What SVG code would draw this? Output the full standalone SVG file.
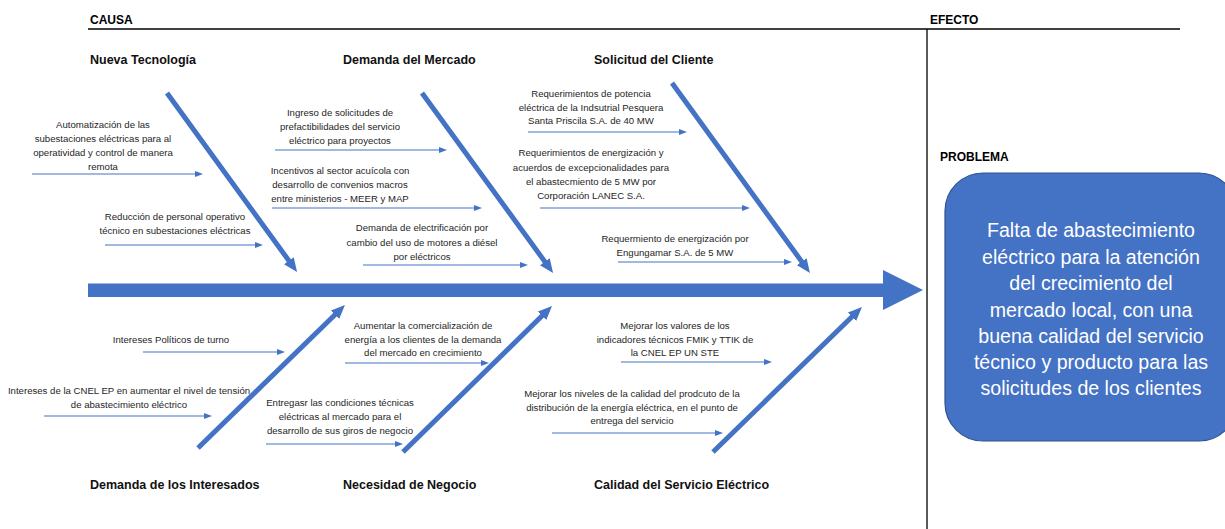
<svg xmlns="http://www.w3.org/2000/svg" width="1225" height="529" viewBox="0 0 1225 529">
<style>
.hdr{font-family:"Liberation Sans",Arial,sans-serif;font-weight:bold;font-size:12px;fill:#000}
.cat{font-family:"Liberation Sans",Arial,sans-serif;font-weight:bold;font-size:12.5px;fill:#111}
.t{font-family:"Liberation Sans",Arial,sans-serif;font-size:9.6px;fill:#262626;text-anchor:middle}
.pt{font-family:"Liberation Sans",Arial,sans-serif;font-size:19.6px;fill:#fff;text-anchor:middle}
.bone{stroke:#4472C4;stroke-width:5;fill:none;marker-end:url(#big)}
.sub{stroke:#4472C4;stroke-width:1.2;fill:none;marker-end:url(#small)}
</style>
<defs>
<marker id="big" viewBox="0 0 14 12" refX="4" refY="6" markerWidth="14" markerHeight="12" markerUnits="userSpaceOnUse" orient="auto">
<path d="M0,0 L14,6 L0,12 z" fill="#4472C4"/>
</marker>
<marker id="small" viewBox="0 0 8 6" refX="2" refY="3" markerWidth="8" markerHeight="6" markerUnits="userSpaceOnUse" orient="auto">
<path d="M0,0 L8,3 L0,6 z" fill="#4472C4"/>
</marker>
</defs>
<rect width="1225" height="529" fill="#fff"/>
<g id="frame">
<line x1="88" y1="29" x2="1180" y2="29" stroke="#000" stroke-width="1.3"/>
<line x1="927" y1="29" x2="927" y2="529" stroke="#000" stroke-width="1.3"/>
<text class="hdr" x="90" y="24">CAUSA</text>
<text class="hdr" x="930" y="24">EFECTO</text>
<text class="hdr" x="940" y="161">PROBLEMA</text>
</g>
<g id="connectors">
<rect x="88" y="283.5" width="796" height="13.5" fill="#4472C4"/>
<polygon points="883,270 923,290 883,310" fill="#4472C4"/>
<line class="bone" x1="167" y1="93" x2="291.2" y2="263.9"/>
<line class="bone" x1="422" y1="93" x2="547.2" y2="264.9"/>
<line class="bone" x1="672" y1="83" x2="804.1" y2="264.9"/>
<line class="bone" x1="198" y1="448" x2="337.8" y2="312"/>
<line class="bone" x1="403" y1="452" x2="544.9" y2="313"/>
<line class="bone" x1="713" y1="452" x2="854.8" y2="314"/>
<line class="sub" x1="32" y1="174" x2="197" y2="174"/>
<line class="sub" x1="105" y1="245" x2="257" y2="245"/>
<line class="sub" x1="275" y1="150" x2="441" y2="150"/>
<line class="sub" x1="272" y1="208" x2="476" y2="208"/>
<line class="sub" x1="363" y1="265" x2="522" y2="265"/>
<line class="sub" x1="528" y1="132" x2="681" y2="132"/>
<line class="sub" x1="540" y1="208" x2="744" y2="208"/>
<line class="sub" x1="618" y1="262" x2="786" y2="262"/>
<line class="sub" x1="143" y1="352" x2="279" y2="352"/>
<line class="sub" x1="44" y1="416" x2="206" y2="416"/>
<line class="sub" x1="345" y1="363" x2="483" y2="363"/>
<line class="sub" x1="266" y1="444" x2="397" y2="444"/>
<line class="sub" x1="621" y1="362" x2="766" y2="362"/>
<line class="sub" x1="552" y1="433" x2="717" y2="433"/>
</g>
<g id="cat-nueva-tecnologia"><text class="cat" x="90" y="63.5">Nueva Tecnología</text></g>
<g id="cat-demanda-mercado"><text class="cat" x="343" y="63.5">Demanda del Mercado</text></g>
<g id="cat-solicitud-cliente"><text class="cat" x="594" y="63.5">Solicitud del Cliente</text></g>
<g id="cat-demanda-interesados"><text class="cat" x="90" y="488.5">Demanda de los Interesados</text></g>
<g id="cat-necesidad-negocio"><text class="cat" x="343" y="488.5">Necesidad de Negocio</text></g>
<g id="cat-calidad-servicio"><text class="cat" x="594" y="488.5">Calidad del Servicio Eléctrico</text></g>
<g id="c1">
<text class="t" x="103" y="128.3">Automatización de las</text>
<text class="t" x="103" y="142.2">subestaciones eléctricas para al</text>
<text class="t" x="103" y="156.2">operatividad y control de manera</text>
<text class="t" x="103" y="169.5">remota</text>
</g>
<g id="c2">
<text class="t" x="175" y="220.3">Reducción de personal operativo</text>
<text class="t" x="175" y="233.5">técnico en subestaciones eléctricas</text>
</g>
<g id="c3">
<text class="t" x="340" y="116.3">Ingreso de solicitudes de</text>
<text class="t" x="340" y="130.3">prefactibilidades del servicio</text>
<text class="t" x="340" y="144.3">eléctrico para proyectos</text>
</g>
<g id="c4">
<text class="t" x="340" y="174.3">Incentivos al sector acuícola con</text>
<text class="t" x="340" y="188.3">desarrollo de convenios macros</text>
<text class="t" x="340" y="201.5">entre ministerios - MEER y MAP</text>
</g>
<g id="c5">
<text class="t" x="422" y="231.3">Demanda de electrificación por</text>
<text class="t" x="422" y="246.3">cambio del uso de motores a diésel</text>
<text class="t" x="422" y="260.3">por eléctricos</text>
</g>
<g id="c6">
<text class="t" x="591" y="97.3">Requerimientos de potencia</text>
<text class="t" x="591" y="110.5">eléctrica de la Indsutrial Pesquera</text>
<text class="t" x="591" y="124.3">Santa Priscila S.A. de 40 MW</text>
</g>
<g id="c7">
<text class="t" x="591" y="156.3">Requerimientos de energización y</text>
<text class="t" x="591" y="171.3">acuerdos de excepcionalidades para</text>
<text class="t" x="591" y="185.3">el abastecmiento de 5 MW por</text>
<text class="t" x="591" y="198.5">Corporación LANEC S.A.</text>
</g>
<g id="c8">
<text class="t" x="675" y="242.3">Requermiento de energización por</text>
<text class="t" x="675" y="256.3">Engungamar S.A. de 5 MW</text>
</g>
<g id="c9">
<text class="t" x="171" y="343.3">Intereses Políticos de turno</text>
</g>
<g id="c10">
<text class="t" x="129" y="394.3">Intereses de la CNEL EP en aumentar el nivel de tensión</text>
<text class="t" x="129" y="407.5">de abastecimiento eléctrico</text>
</g>
<g id="c11">
<text class="t" x="423" y="329.3">Aumentar la comercialización de</text>
<text class="t" x="423" y="342.5">energía a los clientes de la demanda</text>
<text class="t" x="423" y="356.3">del mercado en crecimiento</text>
</g>
<g id="c12">
<text class="t" x="340" y="406.3">Entregasr las condiciones técnicas</text>
<text class="t" x="340" y="420.3">eléctricas al mercado para el</text>
<text class="t" x="340" y="434.3">desarrollo de sus giros de negocio</text>
</g>
<g id="c13">
<text class="t" x="675" y="329.3">Mejorar los valores de los</text>
<text class="t" x="675" y="343.3">indicadores técnicos FMIK y TTIK de</text>
<text class="t" x="675" y="356.3">la CNEL EP UN STE</text>
</g>
<g id="c14">
<text class="t" x="632" y="397.3">Mejorar los niveles de la calidad del prodcuto de la</text>
<text class="t" x="632" y="410.5">distribución de la energía eléctrica, en el punto de</text>
<text class="t" x="632" y="424.3">entrega del servicio</text>
</g>
<g id="problema">
<rect x="945" y="173" width="292" height="268" rx="38" ry="38" fill="#4472C4" stroke="#2F528F" stroke-width="1.2"/>
<text class="pt" x="1091" y="237">Falta de abastecimiento</text>
<text class="pt" x="1091" y="263.5">eléctrico para la atención</text>
<text class="pt" x="1091" y="290">del crecimiento del</text>
<text class="pt" x="1091" y="316.5">mercado local, con una</text>
<text class="pt" x="1091" y="342.5">buena calidad del servicio</text>
<text class="pt" x="1091" y="369">técnico y producto para las</text>
<text class="pt" x="1091" y="394.5">solicitudes de los clientes</text>
</g>
</svg>
